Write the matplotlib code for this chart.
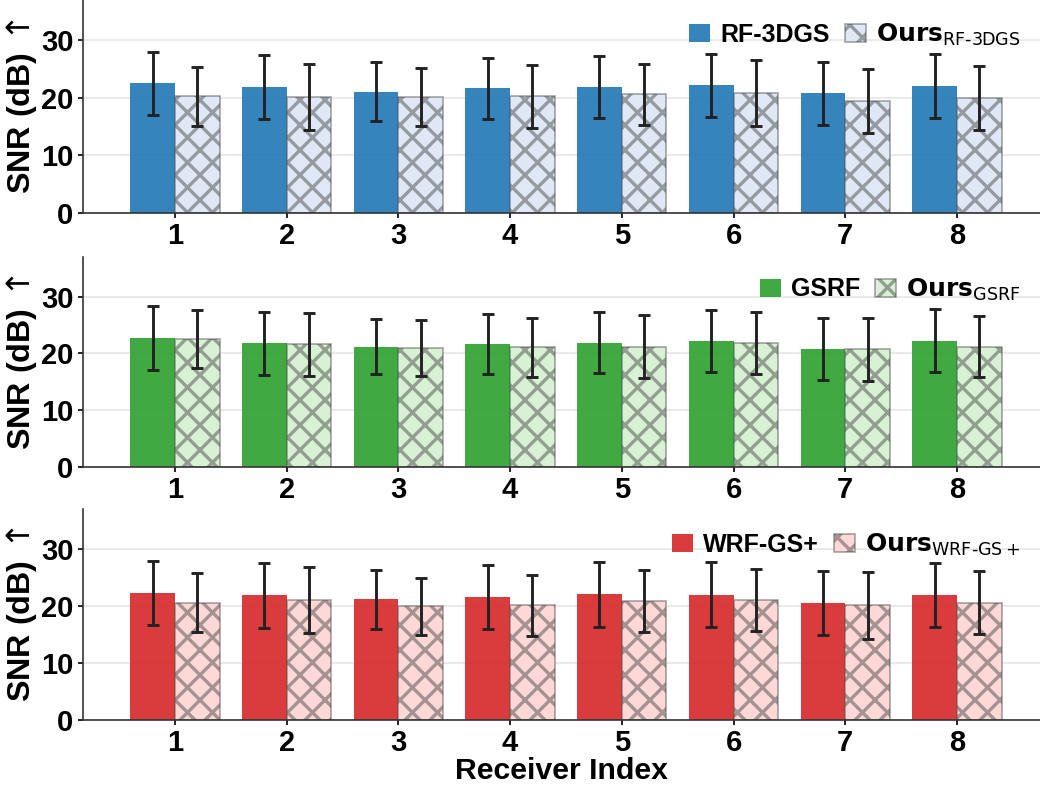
import numpy as np
import matplotlib
matplotlib.use("Agg")
import matplotlib.pyplot as plt

plt.rcParams['font.family'] = ['Liberation Sans', 'DejaVu Sans']
plt.rcParams['mathtext.fontset'] = 'dejavusans'
plt.rcParams['hatch.linewidth'] = 1.6

receivers = ['1', '2', '3', '4', '5', '6', '7', '8']

# RF-3DGS vs Ours
rf3dgs_mean = [22.5, 21.9, 21.1, 21.65, 21.9, 22.2, 20.8, 22.05]
rf3dgs_std = [5.4, 5.6, 5.05, 5.3, 5.4, 5.45, 5.45, 5.55]
ours_rf3dgs_mean = [20.25, 20.1, 20.1, 20.25, 20.6, 20.8, 19.45, 19.95]
ours_rf3dgs_std = [5.15, 5.7, 5.05, 5.4, 5.35, 5.7, 5.5, 5.5]

# GSRF vs Ours
gsrf_mean = [22.7, 21.8, 21.2, 21.7, 21.9, 22.2, 20.8, 22.2]
gsrf_std = [5.6, 5.55, 4.9, 5.3, 5.4, 5.45, 5.5, 5.55]
ours_gsrf_mean = [22.5, 21.6, 21.0, 21.1, 21.2, 21.8, 20.7, 21.2]
ours_gsrf_std = [5.15, 5.6, 4.95, 5.2, 5.5, 5.45, 5.5, 5.45]

# WRF-GS+ vs Ours
wrfgs_mean = [22.3, 21.9, 21.2, 21.6, 22.05, 22.0, 20.5, 21.9]
wrfgs_std = [5.6, 5.7, 5.15, 5.6, 5.65, 5.7, 5.65, 5.6]
ours_wrfgs_mean = [20.6, 21.05, 19.95, 20.1, 20.9, 21.0, 20.1, 20.6]
ours_wrfgs_std = [5.25, 5.75, 5.0, 5.4, 5.45, 5.45, 5.9, 5.5]

paneles = [
    ('RF-3DGS', r'$\mathbf{Ours}_{\mathrm{RF\text{-}3DGS}}$', rf3dgs_mean, rf3dgs_std,
     ours_rf3dgs_mean, ours_rf3dgs_std, '#1f77b4', '#dfe8f4', 0.835),
    ('GSRF', r'$\mathbf{Ours}_{\mathrm{GSRF}}$', gsrf_mean, gsrf_std,
     ours_gsrf_mean, ours_gsrf_std, '#2ca02c', '#d8f1d4', 0.845),
    ('WRF-GS+', r'$\mathbf{Ours}_{\mathrm{WRF\text{-}GS+}}$', wrfgs_mean, wrfgs_std,
     ours_wrfgs_mean, ours_wrfgs_std, '#d62728', '#fdd8d6', 0.83),
]

fig = plt.figure(figsize=(1040 / 150, 790 / 150), dpi=150)
# axes boxes in figure fractions (left, bottom, width, height)
cajas = [
    [0.0798, 0.7304, 0.9202, 0.2696],
    [0.0798, 0.4092, 0.9202, 0.2654],
    [0.0798, 0.0886, 0.9202, 0.2670],
]

x = np.arange(len(receivers))
w = 0.4
err_kw = dict(ecolor='#222222', elinewidth=1.4, capsize=2.8, capthick=1.4)

for caja, (nombre, nombre_ours, m1, s1, m2, s2, color, pale, ley_y) in zip(cajas, paneles):
    ax = fig.add_axes(caja)
    ax.set_axisbelow(True)
    ax.yaxis.grid(True, color='#e6e6e6', linewidth=0.8)
    ax.bar(x - w / 2, m1, w, yerr=s1, color=color, alpha=0.9,
           error_kw=err_kw, label=nombre, zorder=2)
    ax.bar(x + w / 2, m2, w, yerr=s2, facecolor=pale,
           edgecolor=(0.3, 0.3, 0.3, 0.5), linewidth=0.8, hatch='xx',
           error_kw=err_kw, label=nombre_ours, zorder=2)
    ax.set_xlim(-0.824, 7.744)
    ax.set_ylim(0, 37)
    ax.set_yticks([0, 10, 20, 30])
    ax.set_xticks(x)
    ax.set_xticklabels(receivers)
    ax.tick_params(labelsize=14, length=2.5, width=0.8, pad=2)
    for lab in ax.get_xticklabels() + ax.get_yticklabels():
        lab.set_fontweight('bold')
    for s in ['top', 'right']:
        ax.spines[s].set_visible(False)
    for s in ['left', 'bottom']:
        ax.spines[s].set_color('#333333')
        ax.spines[s].set_linewidth(0.8)
    ax.set_ylabel(r'SNR (dB)$\,\uparrow$', fontsize=15.5, fontweight='bold', labelpad=1)
    ax.legend(loc='center right', bbox_to_anchor=(0.985, ley_y), ncol=2, frameon=False,
              prop={'size': 12, 'weight': 'bold'}, handlelength=0.85,
              handleheight=0.75, handletextpad=0.4, columnspacing=0.6,
              borderaxespad=0, borderpad=0.2)

ax.set_xlabel('Receiver Index', fontsize=14.5, fontweight='bold', labelpad=0)

fig.savefig('out.png', dpi=150)
